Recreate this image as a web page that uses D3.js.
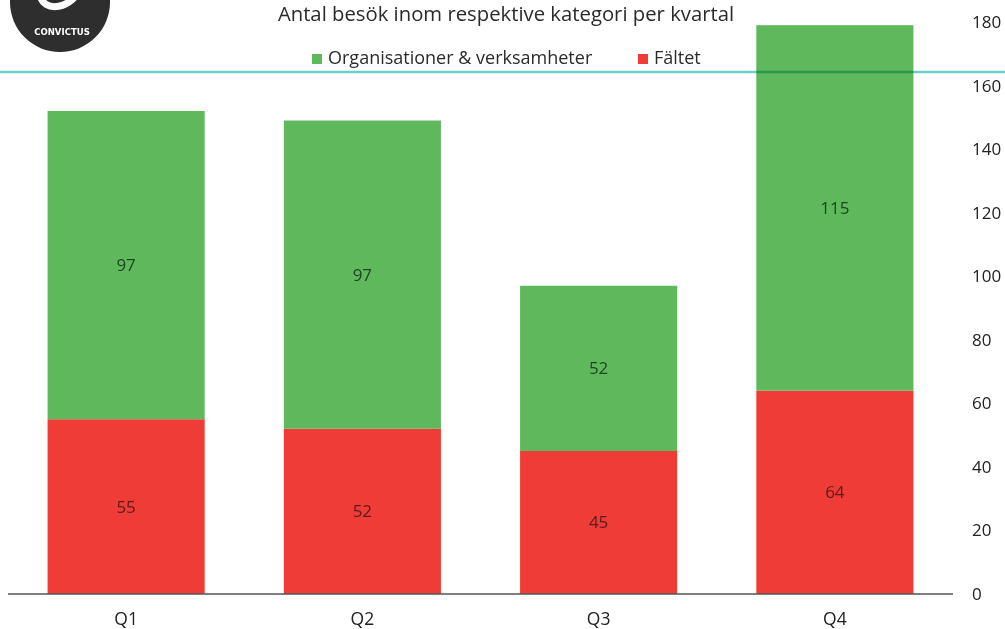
<!DOCTYPE html>
<html>
<head>
<meta charset="utf-8">
<script src="https://cdn.jsdelivr.net/npm/d3@7/dist/d3.min.js"></script>
<style>
  html, body { margin: 0; padding: 0; background: #fff; overflow: hidden; }
  svg { display: block; font-family: "Open Sans", "DejaVu Sans", sans-serif; }
</style>
</head>
<body>
<svg id="chart" width="1005" height="629"></svg>
<script>
// Quarterly visits per category
const quarters = ["Q1", "Q2", "Q3", "Q4"];
const faltet = [55, 52, 45, 64];
const organisationer = [97, 97, 52, 115];
const seriesNames = ["Organisationer & verksamheter", "Fältet"];
const yTicks = [0, 20, 40, 60, 80, 100, 120, 140, 160, 180];

const colors = { org: "#5fb95c", falt: "#ef3c37" };

const svg = d3.select("#chart");
const W = 1005, H = 629;

const x = d3.scaleBand()
  .domain(quarters)
  .range([8, 953])
  .paddingInner(0.335)
  .paddingOuter(0.1675);

const y = d3.scaleLinear()
  .domain([0, 180])
  .range([594, 22]);

// stacked layout: Fältet at the bottom, Organisationer on top
const rows = quarters.map((q, i) => ({ q, falt: faltet[i], org: organisationer[i] }));
const stack = d3.stack().keys(["falt", "org"])(rows);

const layers = svg.append("g").selectAll("g")
  .data(stack)
  .join("g")
  .attr("fill", d => colors[d.key]);

layers.selectAll("rect")
  .data(d => d)
  .join("rect")
  .attr("x", d => x(d.data.q))
  .attr("width", x.bandwidth())
  .attr("y", d => y(d[1]))
  .attr("height", d => y(d[0]) - y(d[1]));

// value labels centred in each segment
layers.each(function (layer) {
  d3.select(this).selectAll("text")
    .data(layer)
    .join("text")
    .attr("x", d => x(d.data.q) + x.bandwidth() / 2)
    .attr("y", d => (y(d[0]) + y(d[1])) / 2)
    .attr("dy", "0.35em")
    .attr("text-anchor", "middle")
    .attr("font-size", 17)
    .attr("fill", layer.key === "org" ? "#1d4620" : "#5b1c1c")
    .text(d => d.data[layer.key]);
});

// baseline
svg.append("line")
  .attr("x1", 8).attr("x2", 953)
  .attr("y1", y(0)).attr("y2", y(0))
  .attr("stroke", "#555").attr("stroke-width", 1.5);

// category axis
const xAxis = svg.append("g")
  .attr("transform", `translate(0,${y(0)})`)
  .call(d3.axisBottom(x).tickSize(0).tickPadding(19));
xAxis.select(".domain").remove();
xAxis.selectAll("text")
  .attr("font-size", 17.5)
  .attr("font-family", "Open Sans, sans-serif")
  .attr("fill", "#222");

// value axis on the right
const yAxis = svg.append("g")
  .attr("transform", "translate(960,0)")
  .call(d3.axisRight(y).tickValues(yTicks).tickSize(0).tickPadding(12));
yAxis.select(".domain").remove();
yAxis.selectAll("text")
  .attr("font-size", 17)
  .attr("font-family", "Open Sans, sans-serif")
  .attr("fill", "#222");

// title
svg.append("text")
  .attr("x", 506).attr("y", 21)
  .attr("text-anchor", "middle")
  .attr("font-size", 20.3)
  .attr("fill", "#2a2a2a")
  .text("Antal besök inom respektive kategori per kvartal");

// legend
const legend = svg.append("g");
const legendItems = [
  { name: seriesNames[0], color: colors.org, x: 312 },
  { name: seriesNames[1], color: colors.falt, x: 638 }
];
legendItems.forEach(it => {
  legend.append("rect")
    .attr("x", it.x).attr("y", 54)
    .attr("width", 10).attr("height", 10)
    .attr("fill", it.color);
  legend.append("text")
    .attr("x", it.x + 16).attr("y", 64)
    .attr("font-size", 18)
    .attr("fill", "#2a2a2a")
    .text(it.name);
});

// ruled line across the page
svg.append("line")
  .attr("x1", 0).attr("x2", W)
  .attr("y1", 72).attr("y2", 72)
  .attr("stroke", "#6ccfc6")
  .attr("stroke-width", 2.5)
  .style("mix-blend-mode", "multiply");

// Convictus logo badge
const logo = svg.append("g").attr("transform", "translate(60,2)");
logo.append("circle").attr("r", 50).attr("fill", "#2e2e2e");
logo.append("path")
  .attr("d", "M 22 -18 C 14 8, -18 12, -20 -8 C -21 -24, -6 -34, 6 -30")
  .attr("fill", "none").attr("stroke", "#fff").attr("stroke-width", 7)
  .attr("stroke-linecap", "round");
logo.append("path")
  .attr("d", "M 6 -6 C 12 -14, 16 -22, 10 -24")
  .attr("fill", "none").attr("stroke", "#fff").attr("stroke-width", 3);
logo.append("text")
  .attr("x", 2).attr("y", 33)
  .attr("text-anchor", "middle")
  .attr("font-family", "DejaVu Sans Condensed, DejaVu Sans, sans-serif")
  .attr("font-weight", "bold")
  .attr("font-size", 9.5)
  .attr("fill", "#fff")
  .text("CONVICTUS");
</script>
</body>
</html>
